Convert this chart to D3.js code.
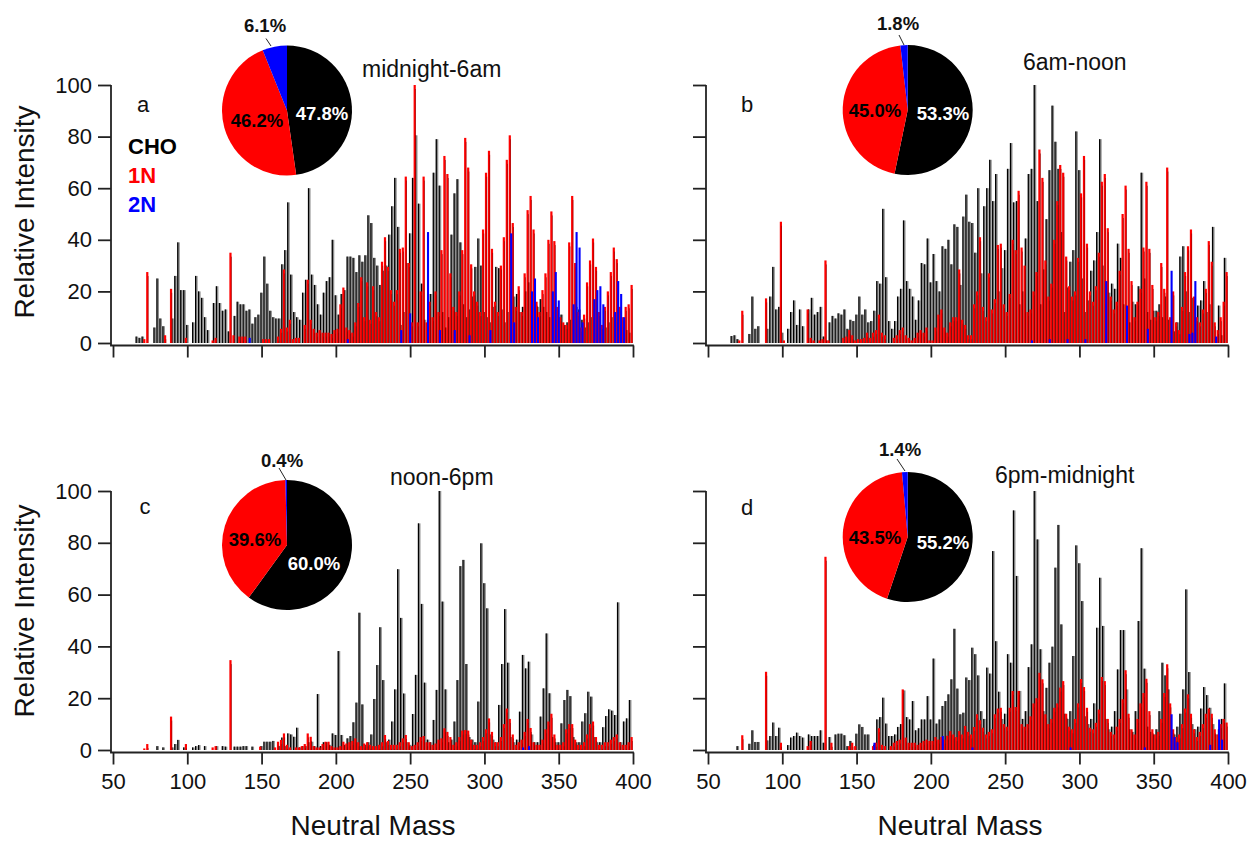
<!DOCTYPE html>
<html>
<head>
<meta charset="utf-8">
<script src="https://cdn.jsdelivr.net/npm/d3@7"></script>
<style>
  body { margin: 0; background: #fff; }
  svg { display: block; }
  text { font-family: "Liberation Sans", Arial, Helvetica, sans-serif; }
</style>
</head>
<body>
<svg id="chart" width="1257" height="841"></svg>
<script>
// ---- data -------------------------------------------------------------
// CHO and 2N intensities sit on even nominal masses, 1N on odd ones.
const choStartMass = 64;   // masses 64, 66, ... 400
const n1StartMass = 65;    // masses 65, 67, ... 399
const seriesNames = ["CHO", "1N", "2N"];
const panelLetters = ["a", "b", "c", "d"];
const periods = ["midnight-6am", "6am-noon", "noon-6pm", "6pm-midnight"];
const xTicks = [50, 100, 150, 200, 250, 300, 350, 400];
const yTicks = [0, 20, 40, 60, 80, 100];

// pie shares (% of CHO, 1N, 2N)
const pieA = [47.8, 46.2, 6.1];
const pieB = [53.3, 45.0, 1.8];
const pieC = [60.0, 39.6, 0.4];
const pieD = [55.2, 43.5, 1.4];

// midnight-6am
const choA = [
0,2.5,2,2.5,0,0,0,6,25,9.5,
6.5,0,0,9.5,26,39,20.5,20.5,7,0,
8,26,20,17.5,10,5,0,15.5,22,15.5,
12.5,13,4.5,0,10.5,16,15,15,12.5,13,
7.5,10,11,19.5,33.5,23,12.5,10,9.5,9.5,
30.5,36,54.5,26.5,12,10,9,19.5,24.5,60,
26.5,22.5,15,11,19.5,24,25.5,40,18.5,11,
19,20.5,33.5,33.5,33,27.5,34,31.5,34,49.5,
46.5,33,30,22.5,28,30,42,53,64,45,
7,12,31,42.5,64,80.5,54,23,9,4,
19,66,79,61,12,6,10,42,58,63.5,
39,15,10,13,18,29.5,40.5,30,12,10,
8,14,29.5,29,13,8,12,20,18,19,
12,14,20,23.5,17,10,14,17,14,12,
10,12,9,10,11,7,8,9,12,14,
13,9,6,8,10,11,8,6,5,6,
8,10,9,8,7,6,5,4,0];
const n1A = [
0,0,0,1.5,27.5,0,0,0,0,0,
3,0,21,0,0,0,0,2,0,0,
0,0,0,0,0,0,1,2,0,0,
0,0,35,3,0,2.5,2.5,2.5,0,0,
0,0,0,1.5,1.5,1.5,0,0,2.5,5.5,
28.5,6,9,1.5,2,2,0,7,24.5,9,
5.5,4,5,4,4,4,3.5,5,5.5,15,
21.5,6,5,4,8,15.5,25.5,10,23.5,9,
22,12,10,31.5,41,29.5,20.5,16,20.5,36.5,
37,64.5,31,8,100,8,20,64.5,8,16,
10,20,12,36,72.5,65.5,27,14,12,20,
36,79.5,68,30.5,20,16,12,44,66,74.5,
36.5,16,12,30,41,71,80.5,46.5,14,22,
12,27,51.5,57,44,16,12,20.5,27,40,
51,39.5,14,10,8,7,39,57,31,12,
6,11,23.5,32,40.5,29.5,12,7,14,20,
27.5,37,32.5,14,10,14,15,22.5];
const n2MassA = [142,208,244,250,262,270,280,290,304,318,320,332,334,336,346,348,350,360,362,364,366,374,376,378,380,388,390,392,394];
const n2A = [2,1.5,5,11.5,43,5,5,3,5,42.5,8,20,25,10,20,27.5,16.5,15,43,37,8,17,20.5,22,15,12,24,19,10];

// 6am-noon
const choB = [
0,2.7,3,1.5,0,0,0,3.5,18,5.5,
6.5,0,0,5.5,18,29.5,13,14,4,0,
5.5,12,16.5,7,13,6.5,0,13,17.5,11,
12,14,2.5,1,8,10.5,9.5,11.5,11,13,
5.5,9,8.5,11,18,11,13,8,8.5,12.5,
24,23,52,25.5,8.5,5.5,8.5,18,21,47.5,
24,21,18,9,16.5,31,30.5,40.5,23.5,34.5,
24,20,37.5,36.5,40,30.5,46,45,22.5,49,
57.5,47,46.5,35,60,27,53,60,71,55,
65.5,20,29,36,67.5,77.5,54.5,55,15,20,
40.5,65.5,67.5,100,55,15,28.5,48,67,92,
78,67.5,43,12,21.5,31.5,36,82,67,25,
12,16.5,28,32,43,79,30,15,19.5,23,
21,38.5,33,15,10,8,16,15,22,66,
25,12,9,12.5,12.5,15,10,18,9,6,
4.5,8,33.5,37.5,20,12,17.5,8,14.5,16.5,
24,12,15,45,2,14.5,3,33,0];
const n1B = [
0,0,0,1,12.5,0,0,0,0,0,
0,0,17.3,0,0,0,0,47,1,0,
0,0,0,0,0,0,13,2,1,0,
1,1.5,32,1,0,0,0,0,2,2.5,
5,3,1,1.5,1.5,2,4,2,4,5,
11,4,3,0,0,2,3,5,6,3,
2,1,2,4,5,4,6,1,1,6,
11,13,6,4,8,10,10,28.5,9,7,
3,3,15,20,41,14,10,27,13,17,
38,38.5,15,12,19,40,36,59,37,30,
12,13,20,27.5,75,64,32,18,23,40,
55,69,66,33.5,22,18,20,33,58,72.5,
38.5,20,16,22,35,62.5,65.5,44.5,18,13,
16,28,50,61,36.5,24,10,16,21,37,
62.5,36.5,22.5,10,12,31,21,68,10,20,
8,5,14,27.5,37.5,44,18,10,8,13,
21,39.5,31.5,8,5,10,16,27.5];
const n2MassB = [268,280,292,304,318,332,346,362,374,376,378,392];
const n2B = [1,1.5,1.5,1.5,24,14.5,5.5,28,3.5,4,24,2.5];

// noon-6pm
const choC = [
0,0,0,0,0,0,0,0,1.5,0,
1,0,0,1,2.3,3.9,0,1,0,0,
1,1.5,1.9,0,1.5,0,0,0,1.5,0,
1.5,1.3,0,0,1.3,1.3,1.3,1.5,1.5,0,
1.3,0,0,1.5,3.2,3.2,3.2,3.5,0,1.5,
4.8,1.5,6.4,6,5.1,8.6,1,1.5,1.5,3,
3.2,1.5,21.6,1.5,3,3,2,6.4,5.8,38.2,
5.8,2,4.5,5.4,10.7,18.3,53,17.6,2,3,
6,19.7,32.8,47.4,27,3,4,11,23.4,69.8,
51,21.8,3,2,13.9,29,87.5,56.4,26,4,
3,11.6,23.2,100,57.3,23.4,3,4,11,27,
71,73.4,33.2,5,4,3,18.7,79.8,64.4,54.7,
6,4,3,17.4,33.2,54.4,33.7,5,3,4,
14.8,36.7,31.5,34.1,6,3,3,12.9,23.8,45,
21.9,5,3,3,10.3,19.3,23.2,20.8,5,3,
3,11,14.2,22.5,20.6,5,3,3,8.8,13.1,
15.7,15.2,13.5,57,3,11,12.2,19.3,0];
const n1C = [
0,0,0,0.6,2.3,0,0,0,0,0,
0,0,12.9,0,0,0,0,2.3,0,0,
0,0,0,0,0,0,1,1.5,0,0,
0,0,34.7,0,0,0,0,0,0,0,
0,0,1.3,0,0,0,0,1,3.2,3.9,
6.4,2,1,0,1,1,1.5,2.3,6.4,5.1,
1.5,1,1,2.3,3.2,3.2,1.5,1,1,1.5,
3.2,2.5,3,3.5,4.5,3,1.5,2.5,3,2,
1.5,1.5,2,3,5.8,3.5,2,2,2,3,
4.5,5.8,3,1.5,2,3,5,5.4,3,3,
2,2.5,4,4.5,8.4,7,5,2,3,5,
7.5,7.7,7.5,4,2,2,3,5,8,12.2,
7,3,3,5,10,16,12,6,2,3,
4,7,12,8.5,3,2,2,4,8,11,
14,6,2,2,3,8,10,10,4,2,
2,3,6,10,11,5,2,2,3,3,
4,5,6,3,2,2,3,5];
const n2MassC = [326,330];
const n2C = [1,1.5];

// 6pm-midnight
const choD = [
0,0,0,1.5,0,0,0,2.4,7.6,3.1,
3.1,0,0,3.7,5.4,10.6,5.4,8.6,0,0,
1.9,4.8,5.4,6.7,5.4,4.8,0,6,5.4,5.4,
5.4,7.6,2.8,0,5,0,6,6.3,6.3,5.7,
1.5,3.5,0,6.3,9.9,8.9,6,6,0,2,
11.8,12.7,20.2,10.2,5.4,5.4,6,8.9,10,23,
12.7,11.8,18.9,7.6,8.4,11.8,11.8,20.8,11.8,35.3,
10.2,11.8,17,18.9,21.5,27.3,46.8,23.7,13.8,14.4,
28,27,39.5,37,28.8,15,12,31.8,29.5,76.8,
42,22.5,12,14,37,33.7,92.5,67.2,22.8,12,
15,32,40.8,100,81.3,38.9,15,24,33.7,39.9,
70.4,86.9,48.5,14,12,15,36.3,79,72.1,57.5,
13,10,12,18,47.2,66.5,47.9,12,8,9,
15,31.1,46.3,46.3,23.4,8,7,15,49.8,77.9,
31.4,9,7,6,8,15,33.7,28.8,23.4,7,
6,9,14,23.4,62,30.1,10,8,9,16,
24.3,21.2,16.3,10,6,8,12,25.7,0];
const n1D = [
0,0,0,0,5.7,0,0,0,0,0,
0,0,30.2,0,0,0,0,2.8,0,0,
0,0,0,0,0,0,1.5,3.5,0,0,
0,0,74.6,0,2.8,0,0,0,0,0,
1.5,2.8,1.5,0,0,0,0,0,1.5,2.8,
8.4,2,1.5,0,1.5,2.8,3.5,4,23.4,4.8,
2.8,2.8,2.8,2,2.8,3.5,4,3.5,3.5,5,
4,5,4,5.5,7.3,6,5,7.3,6,9.3,
7,6,8.9,13.8,11.5,8.6,6,7,8,13.8,
16,16.3,10,9,16.3,22.8,16.6,22.8,10,9,
10,13,18,20,29.8,27.3,13.8,10,12,16.3,
18,24.1,26.6,14,9,8,12,18,27.4,24.3,
16.3,8.6,8,10.5,15.6,28.2,26.6,12,7,6,
9,12,19.6,30.8,14,8,6,12,18,22,
27.5,15,8,6,7,12,22,33.1,18,8,
5,6,10,16,21.5,14,8,5,7,10,
14,16,14,8,6,10,12,10.6];
const n2MassD = [162,208,228,294,344,362,364,366,388,394,396];
const n2D = [2.8,5.4,1,1,1,13.8,5,3,2,11.8,4];

// ---- layout -------------------------------------------------------------
const colors = { cho: "#000000", choFill: "#8c8c8c", n1: "#ff0000", n1Edge: "#7a0000", n2: "#0000ff", axis: "#222" };
const panels = [
  { cho: choA, n1: n1A, n2m: n2MassA, n2: n2A, pie: pieA,
    x0: 113, x1: 633, y0: 343, y1: 85, xLabels: false, yLabels: true,
    letter: [143, 112], title: [362, 77], legend: true,
    pc: [287, 110.5], lab: [[35, 2.5], [-30, 9.5]], small: [-22, -85], lead: [[-21, -72], [-16, -64.5]] },
  { cho: choB, n1: n1B, n2m: n2MassB, n2: n2B, pie: pieB,
    x0: 708, x1: 1228, y0: 343, y1: 85, xLabels: false, yLabels: false,
    letter: [747, 112], title: [1023, 70], legend: false,
    pc: [907.7, 110], lab: [[35.3, 3], [-32.7, 0]], small: [-9.7, -87], lead: [[-8.7, -75], [-3.7, -65]] },
  { cho: choC, n1: n1C, n2m: n2MassC, n2: n2C, pie: pieC,
    x0: 113, x1: 633, y0: 750, y1: 491, xLabels: true, yLabels: true,
    letter: [145, 514], title: [390, 485], legend: false,
    pc: [287, 545], lab: [[27, 18], [-32, -6]], small: [-5, -85], lead: [[-8, -77], [-1, -65]] },
  { cho: choD, n1: n1D, n2m: n2MassD, n2: n2D, pie: pieD,
    x0: 708, x1: 1228, y0: 750, y1: 491, xLabels: true, yLabels: false,
    letter: [747, 515], title: [995, 483], legend: false,
    pc: [907.7, 537], lab: [[35.3, 5], [-32.7, 0]], small: [-7.7, -88], lead: [[-10.7, -78], [-2.7, -66]] }
];

const svg = d3.select("#chart");
const pctFmt = v => v.toFixed(1) + "%";

panels.forEach((p, pi) => {
  const x = d3.scaleLinear().domain([50, 400]).range([p.x0, p.x1]);
  const y = d3.scaleLinear().domain([0, 100]).range([p.y0, p.y1]);
  const g = svg.append("g").attr("class", "panel-" + panelLetters[pi]);

  const cho = p.cho.map((v, i) => ({ m: choStartMass + 2 * i, v })).filter(d => d.v > 0);
  const n1 = p.n1.map((v, i) => ({ m: n1StartMass + 2 * i, v })).filter(d => d.v > 0);
  const n2 = p.n2.map((v, i) => ({ m: p.n2m[i], v }));

  // CHO bars: grey body with a dark leading edge
  g.append("g").selectAll("rect").data(cho).join("rect")
    .attr("x", d => x(d.m) - 1.2).attr("width", 2.6)
    .attr("y", d => y(d.v)).attr("height", d => y(0) - y(d.v))
    .attr("fill", colors.choFill);
  g.append("g").selectAll("rect").data(cho).join("rect")
    .attr("x", d => x(d.m) - 1.2).attr("width", 1.2)
    .attr("y", d => y(d.v)).attr("height", d => y(0) - y(d.v))
    .attr("fill", colors.cho);
  // 1N bars: red body with a thin dark trailing edge
  g.append("g").selectAll("rect").data(n1).join("rect")
    .attr("x", d => x(d.m) - 1).attr("width", 2.2)
    .attr("y", d => y(d.v)).attr("height", d => y(0) - y(d.v))
    .attr("fill", colors.n1);
  g.append("g").selectAll("rect").data(n1).join("rect")
    .attr("x", d => x(d.m) + 0.7).attr("width", 0.5)
    .attr("y", d => y(d.v) + 4).attr("height", d => Math.max(0, y(0) - y(d.v) - 4))
    .attr("fill", colors.n1Edge);
  // 2N bars
  g.append("g").selectAll("rect").data(n2).join("rect")
    .attr("x", d => x(d.m) - 1).attr("width", 2.1)
    .attr("y", d => y(d.v)).attr("height", d => y(0) - y(d.v))
    .attr("fill", colors.n2);

  // axes
  const axisY = p.y0 + 2.5;
  const axisX = p.x0 - 2;
  const xa = g.append("g").attr("transform", `translate(0,${axisY})`)
    .call(d3.axisBottom(x).tickValues(xTicks).tickSize(12).tickSizeOuter(0).tickPadding(9)
      .tickFormat(p.xLabels ? d3.format("d") : () => ""));
  const ya = g.append("g").attr("transform", `translate(${axisX},0)`)
    .call(d3.axisLeft(y).tickValues(yTicks).tickSize(13).tickSizeOuter(0).tickPadding(6)
      .tickFormat(p.yLabels ? d3.format("d") : () => ""));
  [xa, ya].forEach(a => {
    a.select(".domain").remove();
    a.selectAll(".tick line").attr("stroke", colors.axis).attr("stroke-width", 1.8);
    a.selectAll(".tick text").attr("fill", "#111").style("font-size", "22px")
      .style("font-family", '"Liberation Sans", Arial, sans-serif');
  });
  g.append("line").attr("x1", axisX - 0.9).attr("x2", p.x1 + 0.9).attr("y1", axisY).attr("y2", axisY)
    .attr("stroke", colors.axis).attr("stroke-width", 1.8);
  g.append("line").attr("x1", axisX).attr("x2", axisX).attr("y1", y(100)).attr("y2", axisY)
    .attr("stroke", colors.axis).attr("stroke-width", 1.8);

  // panel letter and period title
  g.append("text").attr("x", p.letter[0]).attr("y", p.letter[1])
    .attr("text-anchor", "middle").style("font-size", "22px").attr("fill", "#111").text(panelLetters[pi]);
  g.append("text").attr("x", p.title[0]).attr("y", p.title[1])
    .style("font-size", "23px").attr("fill", "#111").text(periods[pi]);

  // pie of series shares
  const pie = d3.pie().sort(null)(p.pie);
  const arc = d3.arc().innerRadius(0).outerRadius(65);
  const pg = g.append("g").attr("transform", `translate(${p.pc[0]},${p.pc[1]})`);
  const pieColors = [colors.cho, colors.n1, colors.n2];
  pg.selectAll("path").data(pie).join("path").attr("d", arc).attr("fill", (d, i) => pieColors[i]);
  pg.append("text").attr("x", p.lab[0][0]).attr("y", p.lab[0][1])
    .attr("text-anchor", "middle").attr("dominant-baseline", "central")
    .style("font-size", "18.5px").style("font-weight", "bold").attr("fill", "#fff").text(pctFmt(p.pie[0]));
  pg.append("text").attr("x", p.lab[1][0]).attr("y", p.lab[1][1])
    .attr("text-anchor", "middle").attr("dominant-baseline", "central")
    .style("font-size", "18.5px").style("font-weight", "bold").attr("fill", "#000").text(pctFmt(p.pie[1]));
  pg.append("text").attr("x", p.small[0]).attr("y", p.small[1])
    .attr("text-anchor", "middle").attr("dominant-baseline", "central")
    .style("font-size", "18.5px").style("font-weight", "bold").attr("fill", "#111").text(pctFmt(p.pie[2]));
  pg.append("line").attr("x1", p.lead[0][0]).attr("y1", p.lead[0][1])
    .attr("x2", p.lead[1][0]).attr("y2", p.lead[1][1]).attr("stroke", "#222").attr("stroke-width", 1);

  // series legend
  if (p.legend) {
    const lc = [colors.cho, colors.n1, colors.n2];
    seriesNames.forEach((s, i) => {
      g.append("text").attr("x", 128).attr("y", 154 + i * 29)
        .style("font-size", "22px").style("font-weight", "bold").attr("fill", lc[i]).text(s);
    });
  }
});

// axis titles
[212, 611].forEach(cy => {
  svg.append("text").attr("transform", `translate(34,${cy}) rotate(-90)`)
    .attr("text-anchor", "middle").style("font-size", "28px").attr("fill", "#111").text("Relative Intensity");
});
[373, 960].forEach(cx => {
  svg.append("text").attr("x", cx).attr("y", 835)
    .attr("text-anchor", "middle").style("font-size", "28px").attr("fill", "#111").text("Neutral Mass");
});
</script>
</body>
</html>
